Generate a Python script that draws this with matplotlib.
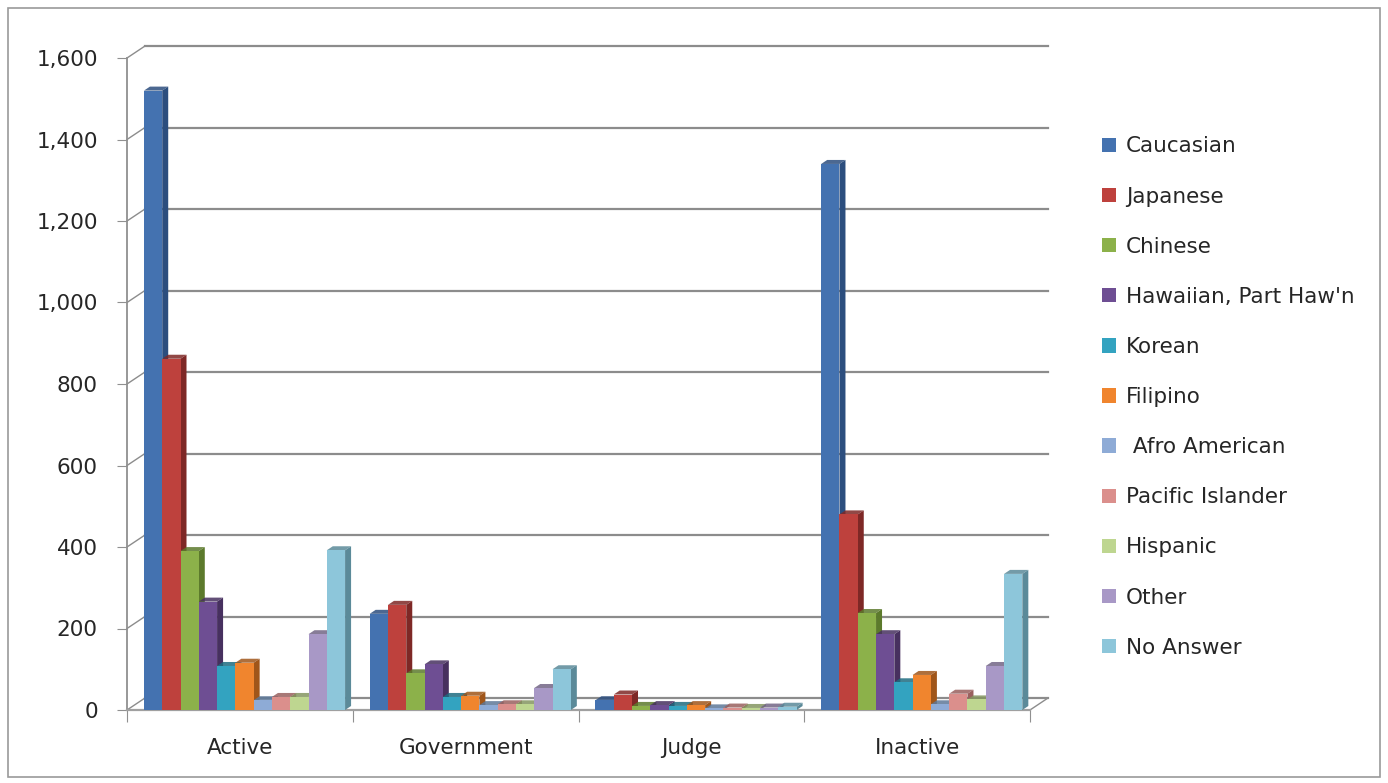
import matplotlib.pyplot as plt
from matplotlib.patches import Patch, Polygon, Rectangle
import numpy as np

categories = ["Active", "Government", "Judge", "Inactive"]
groups = ["Caucasian", "Japanese", "Chinese", "Hawaiian, Part Haw'n", "Korean",
          "Filipino", " Afro American", "Pacific Islander", "Hispanic", "Other", "No Answer"]

caucasian = [1520, 236, 24, 1340]
japanese = [862, 258, 38, 480]
chinese = [390, 90, 10, 238]
hawaiian = [266, 112, 12, 186]
korean = [108, 32, 10, 68]
filipino = [116, 35, 12, 86]
afro_american = [24, 12, 4, 14]
pacific_islander = [32, 14, 6, 40]
hispanic = [32, 14, 5, 26]
other = [186, 54, 6, 108]
no_answer = [392, 100, 8, 334]

series = [caucasian, japanese, chinese, hawaiian, korean, filipino,
          afro_american, pacific_islander, hispanic, other, no_answer]

colors = ["#4472B0", "#BE413D", "#8CB14A", "#6E4E93", "#33A3C0", "#F0852E",
          "#8EABD6", "#DB8F8C", "#BED690", "#A898C6", "#8DC6DA"]
side_colors = ["#2C4E7E", "#7E2826", "#5C7A2C", "#47305F", "#1E6C80", "#A0561A",
               "#5E7898", "#99605E", "#849660", "#726585", "#5B8A99"]

W, H = 1388, 783
fig = plt.figure(figsize=(W / 100, H / 100), dpi=100)
fig.patches.append(Rectangle((8 / W, 6 / H), 1 - 16 / W, 1 - 14 / H, transform=fig.transFigure,
                             fill=False, edgecolor="#9a9a9a", linewidth=1.2))

x0, x1, ytop, ybot = 127, 1030, 58, 710
ax = fig.add_axes([x0 / W, (H - ybot) / H, (x1 - x0) / W, (ybot - ytop) / H])
ax.set_xlim(0, 4)
ax.set_ylim(0, 1600)

px_x = 4 / (x1 - x0)
px_y = 1600 / (ybot - ytop)
# back wall offset
bdx, bdy = 18 * px_x, 12 * px_y
# bar depth offset
ddx, ddy = 6 * px_x, 4 * px_y

# back wall grid lines + diagonals
for v in range(0, 1601, 200):
    ax.plot([bdx, 4 + bdx], [v + bdy, v + bdy], color="#8c8c8c", lw=1.6, clip_on=False, zorder=1)
    ax.plot([0, bdx], [v, v + bdy], color="#8c8c8c", lw=1, clip_on=False, zorder=1)
ax.plot([4, 4 + bdx], [0, bdy], color="#8c8c8c", lw=1, clip_on=False, zorder=1)

bw = 0.081
start = 0.075
for j, vals in enumerate(series):
    xs = np.arange(len(categories)) + start + j * bw
    ax.bar(xs, vals, width=bw, align="edge", color=colors[j], edgecolor="none", zorder=3)
    for xl, v in zip(xs, vals):
        xr = xl + bw
        ax.add_patch(Polygon([(xr, 0), (xr + ddx, ddy), (xr + ddx, v + ddy), (xr, v)],
                             closed=True, color=side_colors[j], lw=0, zorder=2.9))
        ax.add_patch(Polygon([(xl, v), (xl + ddx, v + ddy), (xr + ddx, v + ddy), (xr, v)],
                             closed=True, color=side_colors[j], lw=0, zorder=2.9, alpha=0.85))

for s in ["top", "right"]:
    ax.spines[s].set_visible(False)
ax.spines["left"].set_color("#909090")
ax.spines["bottom"].set_color("#a0a0a0")
ax.spines["left"].set_linewidth(1.3)
ax.spines["bottom"].set_linewidth(1.6)

ax.set_yticks(range(0, 1601, 200))
ax.set_yticklabels([f"{v:,}" for v in range(0, 1601, 200)])
ax.set_xticks([0, 1, 2, 3, 4])
ax.set_xticklabels([])
ax.set_xticks(np.arange(4) + 0.5, minor=True)
ax.set_xticklabels(categories, minor=True)
ax.tick_params(axis="x", which="major", length=8.5, color="#909090", direction="out")
ax.tick_params(axis="x", which="minor", length=0, pad=20, labelsize=15.5, labelcolor="#262626")
ax.tick_params(axis="y", length=7, color="#909090", pad=14, labelsize=15.5, labelcolor="#262626")

handles = [Patch(facecolor=c, edgecolor="none") for c in colors]
fig.legend(handles, groups, loc="upper left", bbox_to_anchor=(1083 / W, 1 - 117 / H),
           frameon=False, fontsize=15.5, labelspacing=1.40, handlelength=0.65,
           handleheight=0.65, handletextpad=0.45, labelcolor="#262626")

fig.savefig("out.png", dpi=100, facecolor="white")
